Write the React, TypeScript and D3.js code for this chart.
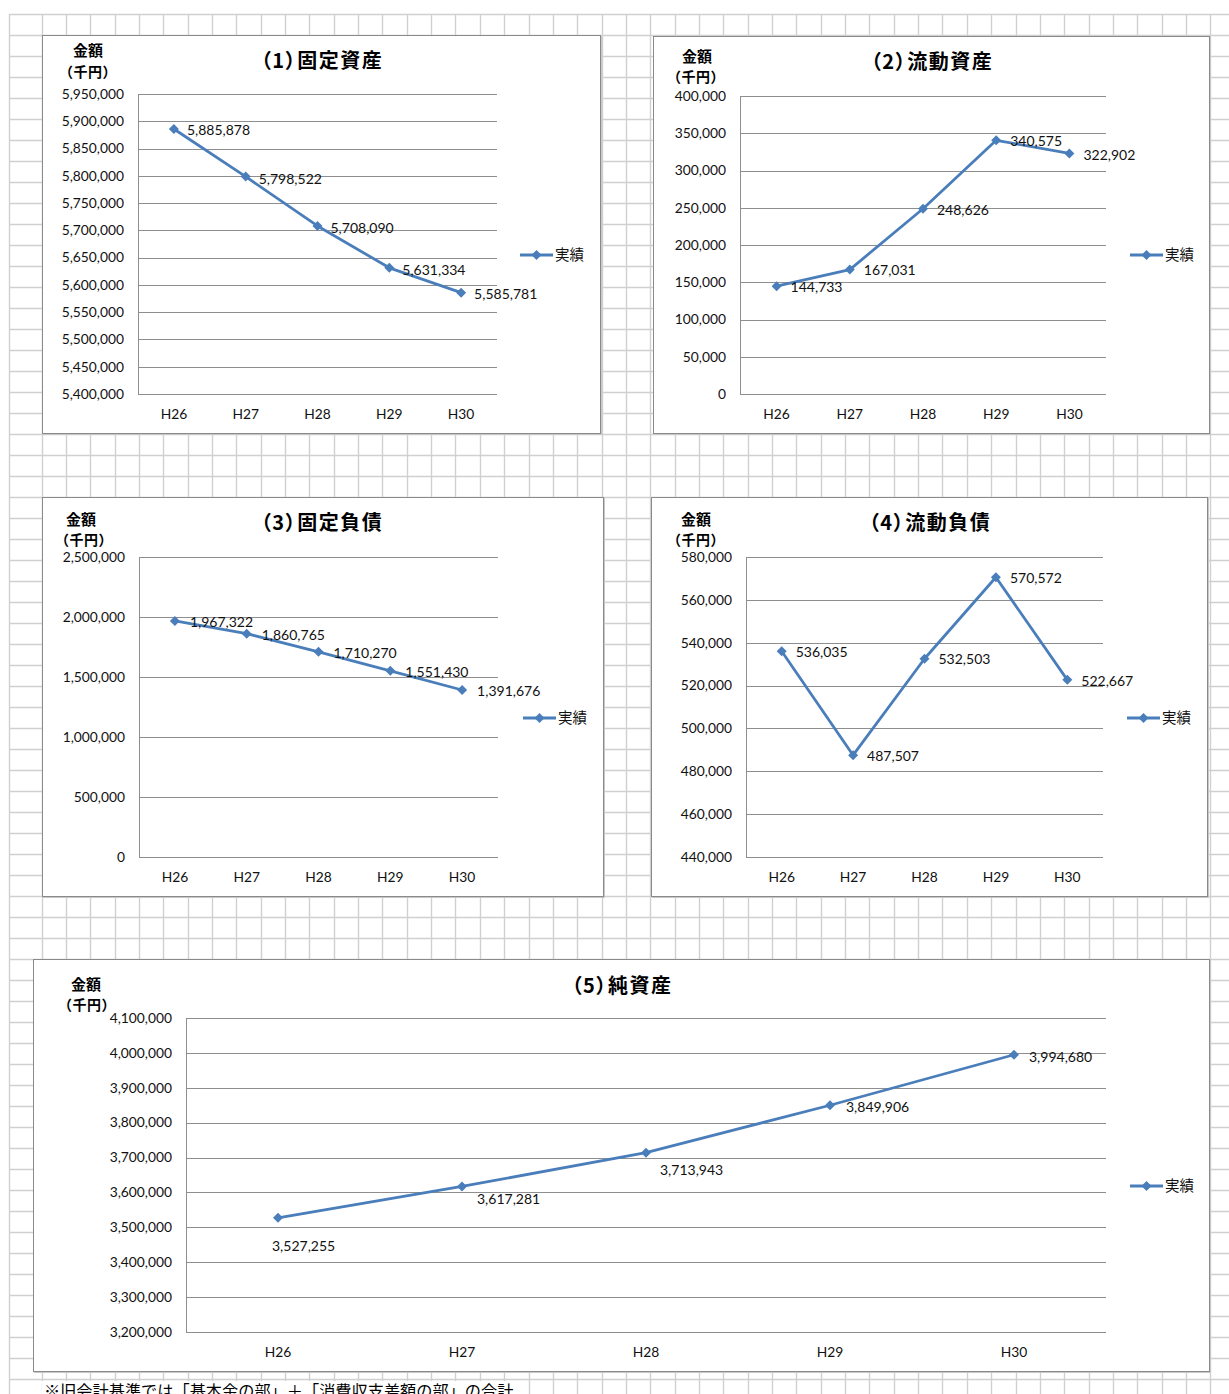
import React from "react";
import * as d3 from "d3";

// Fiscal years on the category axis
const years = ["H26", "H27", "H28", "H29", "H30"];

// Balance-sheet series (thousand yen)
const fixedAssets = [5885878, 5798522, 5708090, 5631334, 5585781];
const currentAssets = [144733, 167031, 248626, 340575, 322902];
const fixedLiabilities = [1967322, 1860765, 1710270, 1551430, 1391676];
const currentLiabilities = [536035, 487507, 532503, 570572, 522667];
const netAssets = [3527255, 3617281, 3713943, 3849906, 3994680];

// Value-axis tick labels for each chart
const fixedAssetsTicks = d3.range(5400000, 5950001, 50000);
const currentAssetsTicks = d3.range(0, 400001, 50000);
const fixedLiabilitiesTicks = d3.range(0, 2500001, 500000);
const currentLiabilitiesTicks = d3.range(440000, 580001, 20000);
const netAssetsTicks = d3.range(3200000, 4100001, 100000);

const seriesName = "実績";
const footnote = "※旧会計基準では「基本金の部」＋「消費収支差額の部」の合計";

const W = 1229;
const H = 1394;
const LINE = "#4A7EBB";
const AXIS = "#8e8e8e";
const CELL = "#d0d0d0";
const NUM_FONT = "Lato, 'Noto Sans CJK JP', sans-serif";
const JP_FONT = "'Noto Sans CJK JP', sans-serif";
const fmt = d3.format(",");

type ChartSpec = {
  title: string;
  values: number[];
  ticks: number[];
  frame: { x: number; y: number; w: number; h: number };
  plot: { l: number; r: number; t: number; b: number };
  titlePos: [number, number];
  unitPos: [number, number];
  unit2Pos: [number, number];
  legend: [number, number];
  labelDx: number[];
  labelDy: number[];
};

const charts: ChartSpec[] = [
  {
    title: "（1）固定資産",
    values: fixedAssets,
    ticks: fixedAssetsTicks,
    frame: { x: 42, y: 35, w: 558, h: 398 },
    plot: { l: 138, r: 497, t: 94, b: 394 },
    titlePos: [322, 61],
    unitPos: [88, 51],
    unit2Pos: [88, 72],
    legend: [520, 255],
    labelDx: [13, 13, 13, 13, 13],
    labelDy: [1, 2, 2, 2, 1],
  },
  {
    title: "（2）流動資産",
    values: currentAssets,
    ticks: currentAssetsTicks,
    frame: { x: 653, y: 36, w: 556, h: 397 },
    plot: { l: 740, r: 1106, t: 96, b: 394 },
    titlePos: [932, 62],
    unitPos: [697, 57],
    unit2Pos: [696, 77],
    legend: [1130, 255],
    labelDx: [14, 14, 14, 14, 14],
    labelDy: [1, 1, 1, 1, 2],
  },
  {
    title: "（3）固定負債",
    values: fixedLiabilities,
    ticks: fixedLiabilitiesTicks,
    frame: { x: 42, y: 497, w: 561, h: 399 },
    plot: { l: 139, r: 498, t: 557, b: 857 },
    titlePos: [322, 523],
    unitPos: [81, 520],
    unit2Pos: [84, 540],
    legend: [523, 718],
    labelDx: [15, 15, 15, 15, 15],
    labelDy: [1, 1, 1, 1, 1],
  },
  {
    title: "（4）流動負債",
    values: currentLiabilities,
    ticks: currentLiabilitiesTicks,
    frame: { x: 651, y: 497, w: 556, h: 399 },
    plot: { l: 746, r: 1103, t: 557, b: 857 },
    titlePos: [930, 523],
    unitPos: [696, 520],
    unit2Pos: [696, 540],
    legend: [1127, 718],
    labelDx: [14, 14, 14, 14, 14],
    labelDy: [1, 1, 0, 1, 1],
  },
  {
    title: "（5）純資産",
    values: netAssets,
    ticks: netAssetsTicks,
    frame: { x: 33, y: 959, w: 1176, h: 412 },
    plot: { l: 186, r: 1106, t: 1018, b: 1332 },
    titlePos: [622, 986],
    unitPos: [86, 985],
    unit2Pos: [87, 1005],
    legend: [1130, 1186],
    labelDx: [-6, 15, 14, 16, 15],
    labelDy: [28, 13, 17, 2, 2],
  },
];

function Diamond({ x, y, r }: { x: number; y: number; r: number }) {
  return (
    <path
      d={`M${x},${y - r}L${x + r},${y}L${x},${y + r}L${x - r},${y}Z`}
      fill={LINE}
    />
  );
}

function LineChart({ spec }: { spec: ChartSpec }) {
  const { frame, plot } = spec;
  const x = d3.scaleBand<string>().domain(years).range([plot.l, plot.r]).padding(0);
  const y = d3
    .scaleLinear()
    .domain([spec.ticks[0], spec.ticks[spec.ticks.length - 1]])
    .range([plot.b, plot.t]);
  const cx = (c: string) => (x(c) ?? 0) + x.bandwidth() / 2;
  const pts: [number, number][] = spec.values.map((v, i) => [cx(years[i]), y(v)]);
  const line = d3.line();
  const [lx, ly] = spec.legend;

  return (
    <g>
      <rect
        x={frame.x + 1.5}
        y={frame.y + 1.5}
        width={frame.w}
        height={frame.h}
        fill="none"
        stroke="#c8c8c8"
        strokeWidth={1}
      />
      <rect
        x={frame.x + 0.5}
        y={frame.y + 0.5}
        width={frame.w}
        height={frame.h}
        fill="#fff"
        stroke="#8a8a8a"
        strokeWidth={1}
      />
      {spec.ticks.map((t) => (
        <g key={t}>
          <line
            x1={plot.l}
            x2={plot.r}
            y1={Math.round(y(t)) + 0.5}
            y2={Math.round(y(t)) + 0.5}
            stroke={AXIS}
            strokeWidth={1}
          />
          <text
            x={plot.l - 14}
            y={y(t)}
            dy="0.35em"
            textAnchor="end"
            fontFamily={NUM_FONT}
            fontSize={13.8}
            fill="#111"
          >
            {fmt(t)}
          </text>
        </g>
      ))}
      <line
        x1={Math.round(plot.l) + 0.5}
        x2={Math.round(plot.l) + 0.5}
        y1={plot.t}
        y2={plot.b}
        stroke={AXIS}
        strokeWidth={1}
      />
      {years.map((c) => (
        <text
          key={c}
          x={cx(c)}
          y={plot.b + 20}
          dy="0.35em"
          textAnchor="middle"
          fontFamily={NUM_FONT}
          fontSize={13.8}
          fill="#111"
        >
          {c}
        </text>
      ))}
      <path d={line(pts) ?? ""} fill="none" stroke={LINE} strokeWidth={2.8} strokeLinejoin="round" />
      {pts.map(([px, py], i) => (
        <Diamond key={i} x={px} y={py} r={5} />
      ))}
      {pts.map(([px, py], i) => (
        <text
          key={"l" + i}
          x={px + spec.labelDx[i]}
          y={py + spec.labelDy[i]}
          dy="0.35em"
          fontFamily={NUM_FONT}
          fontSize={14}
          fill="#111"
        >
          {fmt(spec.values[i])}
        </text>
      ))}
      <text
        x={spec.titlePos[0]}
        y={spec.titlePos[1]}
        dy="0.35em"
        textAnchor="middle"
        fontFamily={JP_FONT}
        fontWeight={700}
        fontSize={20}
        letterSpacing={1.5}
        style={{ fontFeatureSettings: "'palt'" }}
        fill="#000"
      >
        {spec.title}
      </text>
      <text
        x={spec.unitPos[0]}
        y={spec.unitPos[1]}
        dy="0.35em"
        textAnchor="middle"
        fontFamily={JP_FONT}
        fontWeight={700}
        fontSize={15}
        fill="#000"
      >
        金額
      </text>
      <text
        x={spec.unit2Pos[0]}
        y={spec.unit2Pos[1]}
        dy="0.35em"
        textAnchor="middle"
        fontFamily={JP_FONT}
        fontWeight={700}
        fontSize={14}
        letterSpacing={0.5}
        fill="#000"
      >
        （千円）
      </text>
      <line x1={lx} x2={lx + 33} y1={ly} y2={ly} stroke={LINE} strokeWidth={2.8} />
      <Diamond x={lx + 16.5} y={ly} r={5} />
      <text
        x={lx + 35}
        y={ly}
        dy="0.35em"
        fontFamily={JP_FONT}
        fontSize={14.5}
        fill="#111"
      >
        {seriesName}
      </text>
    </g>
  );
}

export default function App() {
  const colXs = [9, ...d3.range(41.5, W + 1, 24.35)];
  const rowYs = d3.range(14, H + 1, 21);
  return (
    <svg
      width={W}
      height={H}
      viewBox={`0 0 ${W} ${H}`}
      style={{ position: "absolute", left: 0, top: 0, background: "#fff" }}
    >
      <rect x={0} y={0} width={W} height={H} fill="#fff" />
      <g>
        {colXs.map((cx, i) => (
          <line
            key={"c" + i}
            x1={Math.round(cx) + 0.5}
            x2={Math.round(cx) + 0.5}
            y1={14}
            y2={H}
            stroke={CELL}
            strokeWidth={1.4}
          />
        ))}
        {rowYs.map((ry, i) => (
          <line
            key={"r" + i}
            x1={9}
            x2={W}
            y1={Math.round(ry) + 0.5}
            y2={Math.round(ry) + 0.5}
            stroke={CELL}
            strokeWidth={1.4}
          />
        ))}
      </g>
      {charts.map((c, i) => (
        <LineChart key={i} spec={c} />
      ))}
      <rect x={42} y={1381} width={485} height={H - 1381} fill="#fff" />
      <text x={44} y={1397} fontFamily={JP_FONT} fontSize={16.2} fill="#000">
        {footnote}
      </text>
    </svg>
  );
}
